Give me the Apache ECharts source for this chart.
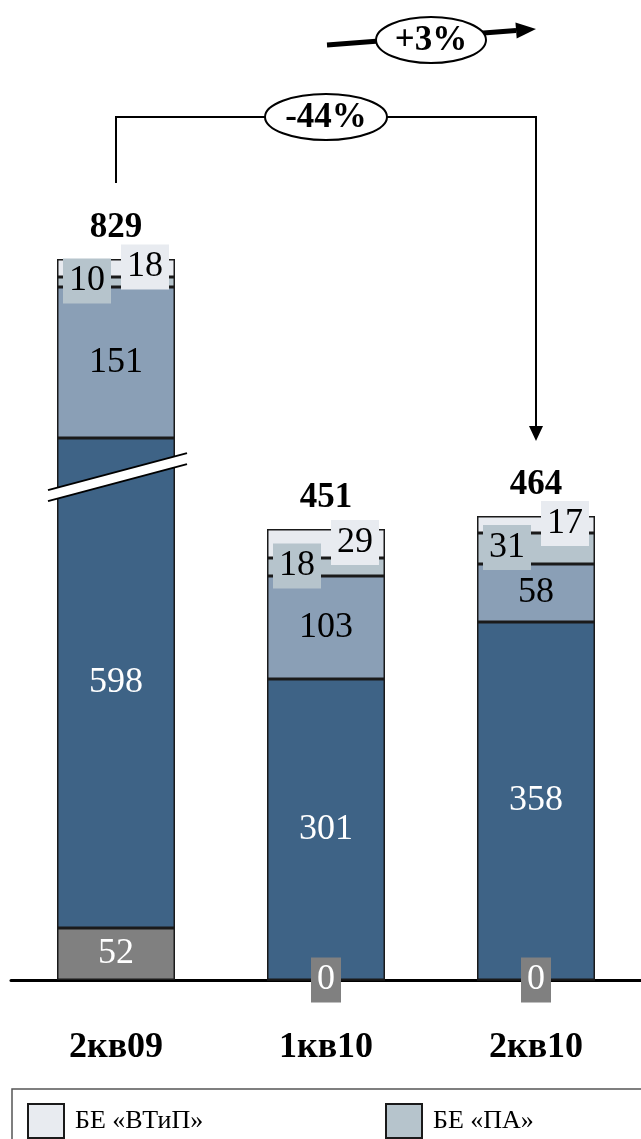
<!DOCTYPE html>
<html>
<head>
<meta charset="utf-8">
<script src="https://cdn.jsdelivr.net/npm/echarts@6/dist/echarts.min.js"></script>
<style>
  html, body { margin: 0; padding: 0; background: #fff; }
  #main { width: 641px; height: 1139px; }
</style>
</head>
<body>
<div id="main"></div>
<script>
// данные
const categories = ['2кв09', '1кв10', '2кв10']
const otherValues = [52, 0, 0]
const mainValues = [598, 301, 358]
const midValues = [151, 103, 58]
const paValues = [10, 18, 31]
const vtipValues = [18, 29, 17]
const totals = [829, 451, 464]
const changes = ['-44%', '+3%']

const FONT = "'Liberation Serif', 'Times New Roman', serif"
const BORDER = '#1a1a1a'

const chart = echarts.init(document.getElementById('main'))

function barSeries (name, data, color, label) {
  return {
    name: name,
    type: 'bar',
    stack: 'total',
    barWidth: 118,
    data: data,
    itemStyle: { color: color, borderColor: BORDER, borderWidth: 1.5 },
    label: Object.assign({
      show: true,
      position: 'inside',
      fontFamily: FONT,
      fontSize: 36,
      lineHeight: 35
    }, label),
    emphasis: { disabled: true }
  }
}

const option = {
  animation: false,
  backgroundColor: '#fff',
  grid: { left: 11, right: 0, top: 188, bottom: 159 },
  xAxis: {
    type: 'category',
    data: categories,
    axisLine: { lineStyle: { color: '#000', width: 3 } },
    axisTick: { show: false },
    axisLabel: {
      color: '#000',
      fontFamily: FONT,
      fontSize: 36,
      fontWeight: 'bold',
      margin: 50
    }
  },
  yAxis: {
    type: 'value',
    min: 0,
    max: 900,
    show: false,
    splitLine: { show: false },
    // разрыв оси для первого столбца
    breaks: [{ start: 500, end: 608, gap: 0 }],
    breakArea: { show: false }
  },
  legend: [
    {
      data: ['БЕ «ВТиП»'],
      left: 22,
      top: 1098,
      icon: 'rect',
      itemWidth: 36,
      itemHeight: 34,
      textStyle: { color: '#000', fontFamily: FONT, fontSize: 26, padding: [0, 0, 0, 6] }
    },
    {
      data: ['БЕ «ПА»'],
      left: 380,
      top: 1098,
      icon: 'rect',
      itemWidth: 36,
      itemHeight: 34,
      textStyle: { color: '#000', fontFamily: FONT, fontSize: 26, padding: [0, 0, 0, 6] }
    }
  ],
  series: [
    barSeries('Прочие', otherValues, '#808080', {
      color: '#fff', backgroundColor: '#808080', padding: [5, 6]
    }),
    barSeries('Основные', mainValues, '#3e6386', { color: '#fff' }),
    barSeries('Другие', midValues, '#8a9fb6', { color: '#000' }),
    barSeries('БЕ «ПА»', paValues, '#b6c4cc', {
      color: '#000', backgroundColor: '#b6c4cc', padding: [5, 6], offset: [-29, -1]
    }),
    barSeries('БЕ «ВТиП»', vtipValues, '#e8ebf0', {
      color: '#000', backgroundColor: '#e8ebf0', padding: [5, 6], offset: [29, -1]
    }),
    {
      name: 'Итого',
      type: 'scatter',
      data: totals,
      symbolSize: 0,
      itemStyle: { opacity: 1 },
      label: {
        show: true,
        position: 'top',
        distance: 14,
        color: '#000',
        opacity: 1,
        fontFamily: FONT,
        fontSize: 35,
        fontWeight: 'bold'
      },
      emphasis: { disabled: true }
    }
  ]
}

chart.setOption(option)

// аннотации поверх графика
function drawNotes () {
  const x1 = chart.convertToPixel({ xAxisIndex: 0 }, categories[0])
  const x2 = chart.convertToPixel({ xAxisIndex: 0 }, categories[1])
  const x3 = chart.convertToPixel({ xAxisIndex: 0 }, categories[2])
  const yb = chart.convertToPixel({ yAxisIndex: 0 }, 500) - 3
  const k = 37 / 139
  const L = x1 - 68
  const R = x1 + 71
  const upL = yb - 5 + (x1 - L) * k
  const upR = yb - 5 - (R - x1) * k

  // стрелка +3%
  const ax0 = x2 + 1
  const ay0 = 45
  const ax1 = x3
  const ay1 = 29
  const dx = ax1 - ax0
  const dy = ay1 - ay0
  const len = Math.sqrt(dx * dx + dy * dy)
  const ux = dx / len
  const uy = dy / len
  const hb = 20
  const hw = 8
  const bx = ax1 - ux * hb
  const by = ay1 - uy * hb

  chart.setOption({
    graphic: [
      // разрыв
      {
        type: 'polygon',
        z: 100,
        shape: { points: [[L, upL], [R, upR], [R, upR + 11], [L, upL + 11]] },
        style: { fill: '#fff' }
      },
      {
        type: 'line', z: 101,
        shape: { x1: L, y1: upL, x2: R, y2: upR },
        style: { stroke: '#000', lineWidth: 2 }
      },
      {
        type: 'line', z: 101,
        shape: { x1: L, y1: upL + 11, x2: R, y2: upR + 11 },
        style: { stroke: '#000', lineWidth: 2 }
      },
      // скобка -44%
      {
        type: 'polyline', z: 100,
        shape: { points: [[x1, 183], [x1, 117], [x3, 117], [x3, 428]] },
        style: { stroke: '#000', lineWidth: 2, fill: null }
      },
      {
        type: 'polygon', z: 100,
        shape: { points: [[x3 - 7, 426], [x3 + 7, 426], [x3, 441]] },
        style: { fill: '#000' }
      },
      {
        type: 'ellipse', z: 101,
        shape: { cx: x2, cy: 117, rx: 61, ry: 23 },
        style: { fill: '#fff', stroke: '#000', lineWidth: 2 }
      },
      {
        type: 'text', z: 102,
        x: x2, y: 118,
        style: {
          text: changes[0],
          font: 'bold 35px ' + FONT,
          fill: '#000',
          textAlign: 'center',
          textVerticalAlign: 'middle'
        }
      },
      // стрелка +3%
      {
        type: 'line', z: 100,
        shape: { x1: ax0, y1: ay0, x2: bx, y2: by },
        style: { stroke: '#000', lineWidth: 5 }
      },
      {
        type: 'polygon', z: 100,
        shape: {
          points: [
            [ax1, ay1],
            [bx - uy * hw, by + ux * hw],
            [bx + uy * hw, by - ux * hw]
          ]
        },
        style: { fill: '#000' }
      },
      {
        type: 'ellipse', z: 101,
        shape: { cx: 431, cy: 40, rx: 55, ry: 23 },
        style: { fill: '#fff', stroke: '#000', lineWidth: 2 }
      },
      {
        type: 'text', z: 102,
        x: 431, y: 41,
        style: {
          text: changes[1],
          font: 'bold 35px ' + FONT,
          fill: '#000',
          textAlign: 'center',
          textVerticalAlign: 'middle'
        }
      },
      // рамка легенды
      {
        type: 'rect', z: 0,
        shape: { x: 12, y: 1089, width: 640, height: 60 },
        style: { fill: null, stroke: '#555', lineWidth: 1.5 }
      }
    ]
  })
}

drawNotes()
</script>
</body>
</html>
